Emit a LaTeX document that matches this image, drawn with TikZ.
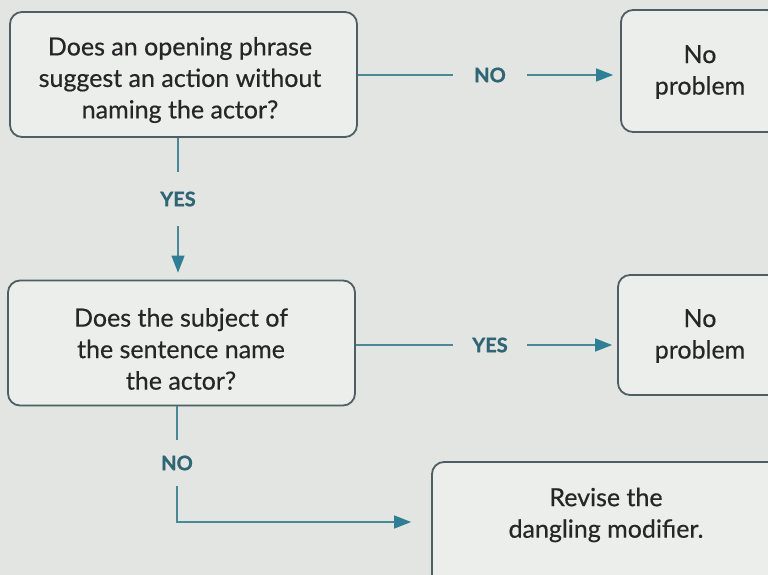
\documentclass[tikz,border=0pt]{standalone}
\usepackage{fontspec}
\setmainfont{Lato}
\newfontfamily\boxfont{Lato}[FakeBold=0.5]
\newfontfamily\lblfont{Lato Bold}[FakeBold=1]
\usetikzlibrary{arrows.meta}
\definecolor{paper}{HTML}{E3E5E2}
\definecolor{boxfill}{HTML}{ECEEEC}
\definecolor{boxline}{HTML}{4E5E63}
\definecolor{conn}{HTML}{4A8797}
\definecolor{tip}{HTML}{2E7F95}
\definecolor{lab}{HTML}{2F6575}
\begin{document}
\begin{tikzpicture}[x=1pt,y=-1pt,
  qbox/.style={draw=boxline,line width=1.8pt,fill=boxfill,rounded corners=12pt,inner sep=0pt},
  qtext/.style={align=center,font=\boxfont\fontsize{25}{31.5}\selectfont,text=black!85,inner sep=0pt},
  lbl/.style={font=\lblfont\fontsize{20}{22}\selectfont,text=lab,inner sep=0pt},
  conline/.style={draw=conn,line width=1.4pt},
  arr/.style={conline,-{Triangle[length=17pt,width=13pt,fill=tip,color=tip]}}
]
\useasboundingbox (0,0) rectangle (768,575);
\fill[paper] (0,0) rectangle (768,575);
\clip (0,0) rectangle (768,575);

% boxes
\node[qbox,minimum width=347pt,minimum height=125pt] (b1) at (183.5,74.5) {};
\node[qtext] (t1) at (180,80)
  {Does an opening phrase\\suggest an action without\\naming the actor?};
\node[qbox,minimum width=158pt,minimum height=122pt] (p1) at (700,71) {};
\node[qtext] (tp1) at (700,72) {No\\problem};
\node[qbox,minimum width=347pt,minimum height=125pt] (b2) at (181.5,343) {};
\node[qtext] (t2) at (181,349)
  {Does the subject of\\the sentence name\\the actor?};
\node[qbox,minimum width=164pt,minimum height=120pt] (p2) at (700,335) {};
\node[qtext] (tp2) at (700,336) {No\\problem};
\node[qbox,minimum width=360pt,minimum height=130pt] (b3) at (612,527) {};
\node[qtext] (t3) at (606,515) {Revise the\\dangling modifier.};

% labels
\node[lbl,minimum width=74pt] (l1) at (490,75) {NO};
\node[lbl,minimum width=74pt] (l2) at (490,345) {YES};
\node[lbl,minimum height=54pt] (l3) at (178,199) {YES};
\node[lbl,minimum height=46pt] (l4) at (177,463) {NO};
\coordinate (c4) at (177,522);

% connectors
\draw[conline] (b1.east |- l1) -- (l1.west);
\draw[arr,shorten >=7pt] (l1.east) -- (p1.west |- l1);
\draw[conline] (b2.east |- l2) -- (l2.west);
\draw[arr,shorten >=5pt] (l2.east) -- (p2.west |- l2);
\draw[conline] (b1.south -| l3) -- (l3.north);
\draw[arr,shorten >=7pt] (l3.south) -- (b2.north -| l3);
\draw[conline] (b2.south -| l4) -- (l4.north);
\draw[arr,shorten >=20pt] (l4.south) -- (c4) -- (b3.west |- c4);
\end{tikzpicture}
\end{document}
